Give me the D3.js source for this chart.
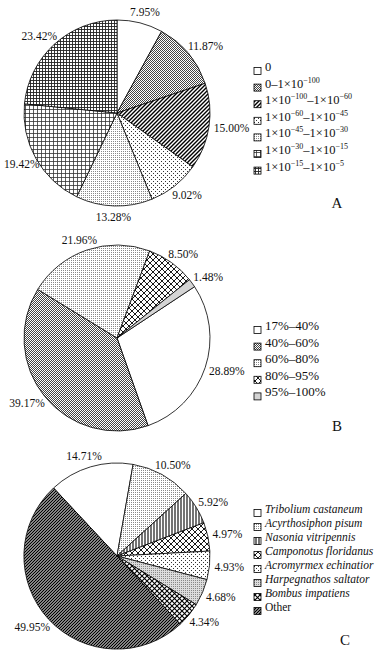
<!DOCTYPE html>
<html><head><meta charset="utf-8">
<script src="https://cdn.jsdelivr.net/npm/d3@7"></script>
<style>body{margin:0;background:#fff}svg{display:block}</style>
</head><body>
<svg id="chart" width="387" height="658"></svg>
<script>
// ---- data ----
const categoriesA = ["0","0–1×10^-100","1×10^-100–1×10^-60","1×10^-60–1×10^-45","1×10^-45–1×10^-30","1×10^-30–1×10^-15","1×10^-15–1×10^-5"];
const valuesA = [7.95, 11.87, 15.00, 9.02, 13.28, 19.42, 23.42];
const categoriesB = ["17%–40%","40%–60%","60%–80%","80%–95%","95%–100%"];
const valuesB = [28.89, 39.17, 21.96, 8.50, 1.48];
const categoriesC = ["Tribolium castaneum","Acyrthosiphon pisum","Nasonia vitripennis","Camponotus floridanus","Acromyrmex echinatior","Harpegnathos saltator","Bombus impatiens","Other"];
const valuesC = [14.71, 10.50, 5.92, 4.97, 4.93, 4.68, 4.34, 49.95];
const panelLabels = ["A","B","C"];

// ---- styles ----
const fillsA = ["white","dense","diag","sparse","fine","grid","grid2"];
const fillsB = ["white","dense","fine","cross","lightgrey"];
const fillsC = ["white","fine","vlines","cross","sparse","lightdots","boldcross","darkdiag"];

const FONT = "'Liberation Serif','Times New Roman',serif";
const svg = d3.select("#chart");
const defs = svg.append("defs");
function pat(id, w, h, draw){
  const p = defs.append("pattern").attr("id", id).attr("patternUnits","userSpaceOnUse").attr("width", w).attr("height", h);
  p.append("rect").attr("width", w).attr("height", h).attr("fill", "#fff");
  if (draw) draw(p);
}
pat("white",4,4);
pat("dense",2,2,p=>{p.append("rect").attr("width",1).attr("height",1).attr("fill","#444");p.append("rect").attr("x",1).attr("y",1).attr("width",1).attr("height",1).attr("fill","#444");});
pat("diag",4,4,p=>p.append("path").attr("d","M-1,1 L1,-1 M0,4 L4,0 M3,5 L5,3").attr("stroke","#000").attr("stroke-width",1.4));
pat("sparse",4,4,p=>{p.append("rect").attr("width",1).attr("height",1).attr("fill","#333");p.append("rect").attr("x",2).attr("y",2).attr("width",1).attr("height",1).attr("fill","#333");});
pat("fine",2,2,p=>p.append("rect").attr("width",1).attr("height",1).attr("fill","#888"));
pat("grid",4,4,p=>p.append("path").attr("d","M0,0.5 H4 M0.5,0 V4").attr("stroke","#333").attr("stroke-width",0.8));
pat("grid2",3,3,p=>p.append("path").attr("d","M0,0.5 H3 M0.5,0 V3").attr("stroke","#222").attr("stroke-width",0.9));
pat("cross",6,6,p=>p.append("path").attr("d","M0,0 L6,6 M6,0 L0,6").attr("stroke","#000").attr("stroke-width",0.9));
pat("lightgrey",2,2,p=>p.append("rect").attr("width",2).attr("height",2).attr("fill","#d4d4d4"));
pat("lightdots",2,2,p=>{p.append("rect").attr("width",2).attr("height",2).attr("fill","#ddd");p.append("rect").attr("width",1).attr("height",1).attr("fill","#888");});
pat("vlines",3,3,p=>p.append("path").attr("d","M1,0 V3").attr("stroke","#000").attr("stroke-width",1.1));
pat("boldcross",5,5,p=>p.append("path").attr("d","M0,0 L5,5 M5,0 L0,5").attr("stroke","#000").attr("stroke-width",1.1));
pat("darkdiag",3,3,p=>p.append("path").attr("d","M-1,1 L1,-1 M0,3 L3,0 M2,4 L4,2").attr("stroke","#000").attr("stroke-width",1.4));

const R = 93;
const panels = [
  {cats: categoriesA, vals: valuesA, fills: fillsA, cx: 117, cy: 113, start: 0,
   legX: 254, legY: 71, legStep: 16.6, fontSize: 12.5, label: panelLabels[0], labX: 337, labY: 203},
  {cats: categoriesB, vals: valuesB, fills: fillsB, cx: 117, cy: 338, start: 56.5,
   legX: 254, legY: 330, legStep: 16.6, fontSize: 13, label: panelLabels[1], labX: 337, labY: 426},
  {cats: categoriesC, vals: valuesC, fills: fillsC, cx: 117, cy: 556, start: -43,
   legX: 254, legY: 513, legStep: 14, fontSize: 11.5, label: panelLabels[2], labX: 345, labY: 640}
];

function addRich(textSel, str, size){
  const parts = str.split(/(\^-?\d+)/).filter(s => s.length);
  let up = false;
  parts.forEach(s => {
    if (s[0] === "^") {
      textSel.append("tspan").attr("font-size", size*0.64).attr("dy", up ? 0 : -size*0.4)
        .text(s.slice(1).replace("-", "−"));
      up = true;
    } else {
      textSel.append("tspan").attr("dy", up ? size*0.4 : 0).text(s);
      up = false;
    }
  });
}

panels.forEach(P => {
  const s = P.start * Math.PI / 180;
  const pie = d3.pie().sort(null).value(d => d).startAngle(s).endAngle(s + 2*Math.PI);
  const arcs = pie(P.vals);
  const arc = d3.arc().innerRadius(0).outerRadius(R);
  const g = svg.append("g").attr("transform", `translate(${P.cx},${P.cy})`);
  g.selectAll("path.slice").data(arcs).join("path").attr("class","slice")
    .attr("d", arc)
    .attr("fill", (d,i) => `url(#${P.fills[i]})`)
    .attr("stroke", "#000").attr("stroke-width", 0.8).attr("stroke-linejoin","round");

  // percentage labels (outside end)
  arcs.forEach(d => {
    const mid = (d.startAngle + d.endAngle) / 2;
    const sx = Math.sin(mid), cy = -Math.cos(mid);
    const t = g.append("text").attr("font-family", FONT).attr("font-size", 11.5)
      .attr("text-anchor","middle").attr("dy","0.35em").attr("fill","#111")
      .text(d.data.toFixed(2) + "%");
    const w = t.node().getComputedTextLength();
    const rr = R + 5;
    let x = rr*sx + sx*w/2;
    const y = rr*cy + cy*6;
    x = Math.max(x, -P.cx + w/2 + 4);
    t.attr("x", x).attr("y", y);
  });

  // legend
  const lg = svg.append("g");
  P.cats.forEach((c, i) => {
    const y = P.legY + i*P.legStep;
    lg.append("rect").attr("x", P.legX).attr("y", y - 3.5).attr("width", 7).attr("height", 7)
      .attr("fill", `url(#${P.fills[i]})`).attr("stroke","#000").attr("stroke-width",0.8);
    const t = lg.append("text").attr("x", P.legX + 11).attr("y", y).attr("dy","0.35em")
      .attr("font-family", FONT).attr("font-size", P.fontSize).attr("fill","#111");
    if (P.cats === categoriesC && c !== "Other") t.attr("font-style","italic");
    addRich(t, c, P.fontSize);
  });
  svg.append("text").attr("x", P.labX).attr("y", P.labY).attr("dy","0.35em").attr("text-anchor","middle")
    .attr("font-family", FONT).attr("font-size", 15).attr("fill","#111").text(P.label);
});
</script>
</body></html>
